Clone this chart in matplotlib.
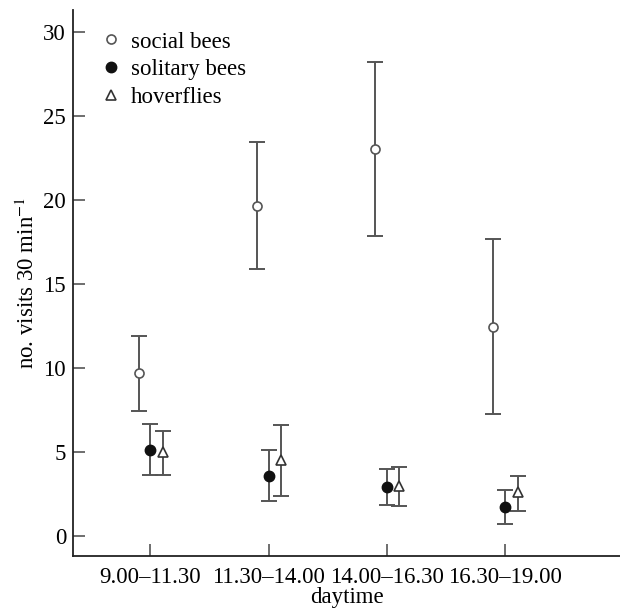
import numpy as np
import matplotlib
matplotlib.use("Agg")
import matplotlib.pyplot as plt

plt.rcParams['font.family'] = ['Liberation Serif', 'DejaVu Serif']
plt.rcParams['mathtext.fontset'] = 'stix'

# datos
periods = ['9.00\u201311.30', '11.30\u201314.00', '14.00\u201316.30', '16.30\u201319.00']

social = [9.67, 19.64, 23.04, 12.44]
social_lo = [7.46, 15.88, 17.86, 7.26]
social_hi = [11.87, 23.42, 28.2, 17.64]

solitary = [5.08, 3.57, 2.90, 1.71]
solitary_lo = [3.61, 2.07, 1.83, 0.71]
solitary_hi = [6.63, 5.08, 3.95, 2.72]

hover = [4.98, 4.50, 2.98, 2.58]
hover_lo = [3.61, 2.38, 1.77, 1.47]
hover_hi = [6.23, 6.57, 4.09, 3.59]

fig = plt.figure(figsize=(6.2, 6.12), dpi=100)
ax = fig.add_axes([0.1177, 0.0915, 0.8823, 0.8922])

x = np.arange(len(periods))
ecol = '#555555'
fs = 16.5


def serie(off, y, lo, hi, **kw):
    y = np.array(y)
    err = [y - np.array(lo), np.array(hi) - y]
    ax.errorbar(x + off, y, yerr=err, fmt='none', ecolor=ecol, elinewidth=1.4,
                capsize=5.5, capthick=1.4, zorder=2)
    ax.plot(x + off, y, linestyle='none', zorder=3, **kw)


serie(-0.1, social, social_lo, social_hi, marker='o', ms=6.5, mfc='white',
      mec=ecol, mew=1.2, label='social bees')
serie(0.0, solitary, solitary_lo, solitary_hi, marker='o', ms=7.5, mfc='#111111',
      mec='#111111', label='solitary bees')
serie(0.105, hover, hover_lo, hover_hi, marker='^', ms=7.5, mfc='white',
      mec='#333333', mew=1.2, label='hoverflies')

ax.set_xlim(-0.654, 3.97)
ax.set_ylim(-1.2, 31.3)
ax.set_yticks([0, 5, 10, 15, 20, 25, 30])
ax.set_xticks(x)
ax.set_xticklabels(periods)

for s in ['top', 'right']:
    ax.spines[s].set_visible(False)
for s in ['left', 'bottom']:
    ax.spines[s].set_linewidth(1.3)
    ax.spines[s].set_color('#222222')

ax.tick_params(direction='in', length=8.5, width=1.2, color='#555555',
               labelsize=fs, pad=5)
ax.tick_params(axis='x', pad=8)

ax.set_xlabel('daytime', fontsize=fs, labelpad=-1)
ax.set_ylabel('no. visits 30 min$^{-1}$', fontsize=fs, labelpad=3)

ax.legend(loc='upper left', bbox_to_anchor=(0.02, 0.99), frameon=False,
          fontsize=fs, handlelength=1.0, handletextpad=0.35, labelspacing=0.3,
          borderaxespad=0.3)

fig.savefig('out.png', dpi=100)
